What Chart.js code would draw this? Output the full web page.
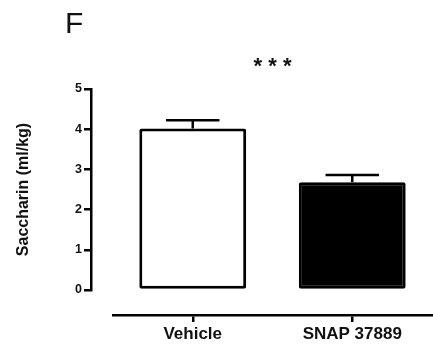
<!DOCTYPE html>
<html>
<head>
<meta charset="utf-8">
<script src="https://cdn.jsdelivr.net/npm/chart.js@4"></script>
<style>
  body { margin: 0; background: #fff; }
  #wrap { position: relative; width: 433px; height: 356px; }
  #panel { position: absolute; left: 65px; top: 8px; font: 30px/30px "Liberation Sans", Arial, sans-serif; color: #111; }
</style>
</head>
<body>
<div id="wrap">
  <canvas id="myChart" width="433" height="356"></canvas>
  <div id="panel">F</div>
</div>
<script>
const groups = ['Vehicle', 'SNAP 37889'];
const saccharin = [4.02, 2.68];
const sem = [0.2, 0.18];
const yTicks = [0, 1, 2, 3, 4, 5];

const fontFamily = '"Liberation Sans", Arial, sans-serif';

// draws the SEM whiskers on top of each bar
const errorBars = {
  id: 'errorBars',
  afterDatasetsDraw(chart) {
    const ctx = chart.ctx;
    const y = chart.scales.y;
    const meta = chart.getDatasetMeta(0);
    ctx.save();
    ctx.strokeStyle = '#000';
    ctx.lineWidth = 2.5;
    meta.data.forEach((bar, i) => {
      const top = y.getPixelForValue(saccharin[i] + sem[i]);
      const base = y.getPixelForValue(saccharin[i]);
      const half = bar.width * 0.25;
      ctx.beginPath();
      ctx.moveTo(bar.x, base);
      ctx.lineTo(bar.x, top);
      ctx.moveTo(bar.x - half, top);
      ctx.lineTo(bar.x + half, top);
      ctx.stroke();
    });
    ctx.restore();
  }
};

new Chart(document.getElementById('myChart'), {
  type: 'bar',
  data: {
    labels: groups,
    datasets: [{
      data: saccharin,
      backgroundColor: ['#ffffff', '#000000'],
      borderColor: '#000000',
      borderWidth: 3,
      borderSkipped: false,
      borderRadius: 2,
      categoryPercentage: 1,
      barPercentage: 0.67
    }]
  },
  options: {
    responsive: false,
    animation: false,
    layout: { padding: { left: 0, right: 1, top: 0, bottom: 0 } },
    plugins: {
      legend: { display: false },
      tooltip: { enabled: false },
      title: {
        display: true,
        text: '* * *',
        fullSize: false,
        color: '#111',
        font: { family: fontFamily, size: 22, weight: 'bold', lineHeight: 1.2 },
        padding: { top: 54, bottom: 8.6 }
      }
    },
    scales: {
      x: {
        position: 'bottom',
        weight: 1,
        grid: { display: true, drawOnChartArea: false, offset: false, tickLength: 7, color: '#000', lineWidth: 2.5 },
        border: { display: true, color: '#000', width: 2.5 },
        ticks: { color: '#111', padding: 2, font: { family: fontFamily, size: 17, weight: 'bold' } },
        afterFit(scale) { scale.height = 41; }
      },
      xGap: {
        type: 'category',
        labels: groups,
        position: 'bottom',
        weight: 0,
        grid: { display: false },
        border: { display: false },
        ticks: { display: false },
        afterFit(scale) { scale.height = 25; }
      },
      y: {
        position: 'left',
        weight: 1,
        min: 0,
        max: 5,
        afterBuildTicks(scale) { scale.ticks = yTicks.map(v => ({ value: v })); },
        grid: { display: true, drawOnChartArea: false, tickLength: 7, color: '#000', lineWidth: 2.5 },
        border: { display: true, color: '#000', width: 2.5 },
        ticks: { color: '#111', padding: 2, font: { family: fontFamily, size: 12.5, weight: 'bold' } },
        title: {
          display: true,
          text: 'Saccharin (ml/kg)',
          color: '#111',
          font: { family: fontFamily, size: 16, weight: 'bold', lineHeight: 1.2 },
          padding: { top: 14, bottom: 0 }
        },
        afterFit(scale) { scale.width = 91; }
      },
      yGap: {
        type: 'linear',
        position: 'left',
        weight: 0,
        grid: { display: false },
        border: { display: false },
        ticks: { display: false },
        afterFit(scale) { scale.width = 22; }
      }
    }
  },
  plugins: [errorBars]
});
</script>
</body>
</html>
